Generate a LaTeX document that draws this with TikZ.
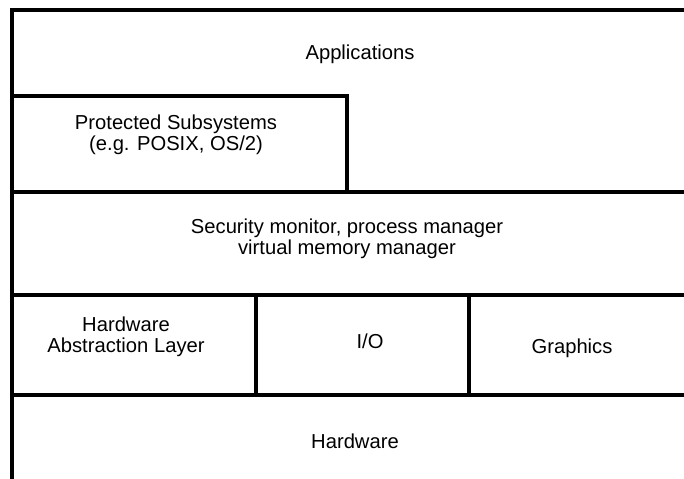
\documentclass[tikz,border=0pt]{standalone}
\usepackage{fontspec}
\setmainfont{Liberation Sans}
\usetikzlibrary{positioning}

\begin{document}
\begin{tikzpicture}[x=0.5pt, y=-0.5pt,
		layer/.style={line width=1.6pt},
		txt/.style={font=\fontsize{10.1}{10.6}\selectfont, align=center, inner sep=0pt}]
	\useasboundingbox (0,0) rectangle (684,478);
	% frame, open at right and bottom
	\draw[layer] (12,480) -- (12,10) -- (688,10);
	\draw[layer] (12,96) -- (347,96) -- (347,192);
	\draw[layer] (12,192) -- (688,192);
	\draw[layer] (12,295) -- (688,295);
	\draw[layer] (12,395) -- (688,395);
	\draw[layer] (256,295) -- (256,395);
	\draw[layer] (469,295) -- (469,395);
	% layer labels
	\node[txt, name=apps] at (360,54) {Applications};
	\node[txt, name=subsys] at (176,135) {Protected Subsystems\\(e.g. POSIX, OS/2)};
	\node[txt, name=exec] at (347,239) {Security monitor, process manager\\virtual memory manager};
	\node[txt, name=hal] at (126,337) {Hardware\\Abstraction Layer};
	\node[txt, name=io] at (370,341) {I/O};
	\node[txt, name=gfx] at (572,348) {Graphics};
	\node[txt, name=hw] at (355,441) {Hardware};
\end{tikzpicture}
\end{document}
